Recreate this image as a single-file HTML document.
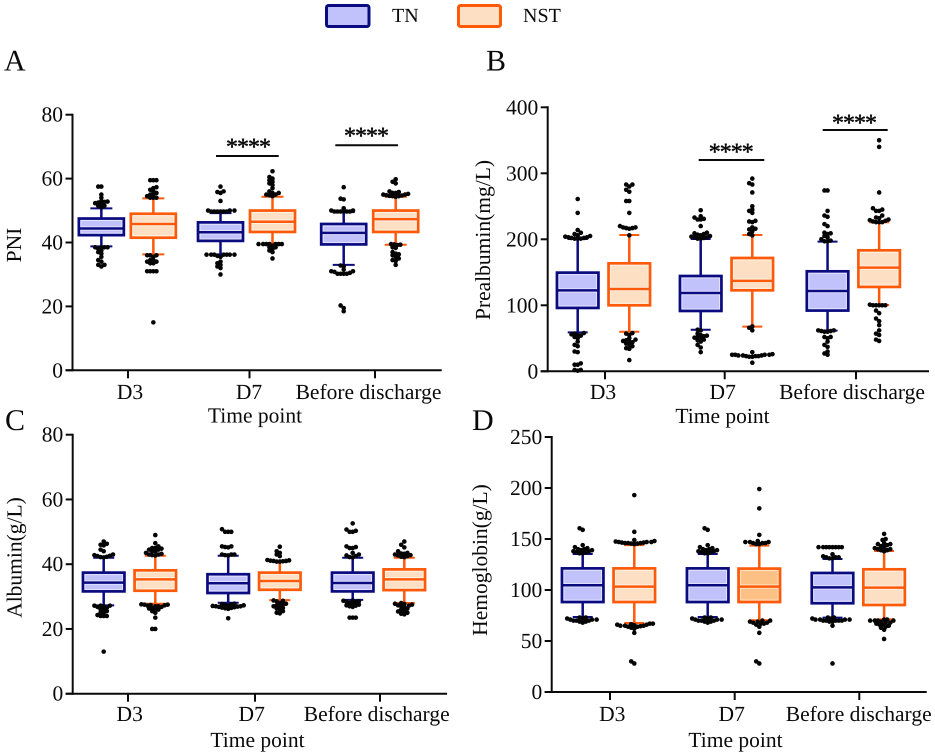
<!DOCTYPE html>
<html lang="en">
<head>
<meta charset="utf-8">
<title>Box plots of PNI, prealbumin, albumin and hemoglobin by time point</title>
<style>
html,body{margin:0;padding:0;background:#fff;}
svg{display:block;}
text{font-family:"Liberation Serif",serif;fill:#0a0a0a;text-rendering:geometricPrecision;}
.lbl{font-size:21.5px;}
.leg{font-size:20px;}
.letter{font-size:30px;}
.stars{font-size:24px;letter-spacing:-1px;text-anchor:middle;stroke:#0a0a0a;stroke-width:.45px;}
.title{font-size:21.5px;text-anchor:middle;}
</style>
</head>
<body>
<svg id="figure" xmlns="http://www.w3.org/2000/svg" width="935" height="756" viewBox="0 0 935 756">
  <rect width="935" height="756" fill="#fff"/>
  <g>
    <g>
      <rect x="326.5" y="5.5" width="42.5" height="21" rx="2" fill="#c1c1fb" stroke="#0b0b80" stroke-width="3"/>
      <text class="leg" x="392" y="22">TN</text>
    </g>
    <g>
      <rect x="458.5" y="5.5" width="42" height="21" rx="2" fill="#fde0c4" stroke="#ff5a0a" stroke-width="3"/>
      <text class="leg" x="523" y="22">NST</text>
    </g>
  </g>
  <text class="letter" x="4" y="70.5">A</text>
  <text class="letter" x="486" y="70.5">B</text>
  <text class="letter" x="5" y="430">C</text>
  <text class="letter" x="472" y="430">D</text>

  <g id="panel-a"></g>
  <g id="panel-b"></g>
  <g id="panel-c"></g>
  <g id="panel-d"></g>

  <text class="title" transform="translate(21,245) rotate(-90)">PNI</text>
  <text class="title" transform="translate(490,240) rotate(-90)">Prealbumin(mg/L)</text>
  <text class="title" transform="translate(21.5,557.5) rotate(-90)">Albumin(g/L)</text>
  <text class="title" transform="translate(487,560) rotate(-90)">Hemoglobin(g/L)</text>
  <text class="title" x="255" y="422.5">Time point</text>
  <text class="title" x="722.5" y="423">Time point</text>
  <text class="title" x="257.5" y="747">Time point</text>
  <text class="title" x="735.5" y="747">Time point</text>

  <g>
    <line x1="216" x2="278.7" y1="156" y2="156" stroke="#0a0a0a" stroke-width="2"/>
    <text class="stars" x="248" y="154.5">****</text>
  </g>
  <g>
    <line x1="335.3" x2="398" y1="145.3" y2="145.3" stroke="#0a0a0a" stroke-width="2"/>
    <text class="stars" x="366" y="143.5">****</text>
  </g>
  <g>
    <line x1="698.7" x2="764.3" y1="160" y2="160" stroke="#0a0a0a" stroke-width="2"/>
    <text class="stars" x="730.7" y="159.5">****</text>
  </g>
  <g>
    <line x1="822.7" x2="887.7" y1="130" y2="130" stroke="#0a0a0a" stroke-width="2"/>
    <text class="stars" x="854" y="130.5">****</text>
  </g>
</svg>

<script>
// ---- shared categories ----
const categories = ['D3', 'D7', 'Before discharge'];
const groups = ['TN', 'NST'];

// Every series array runs: TN D3, NST D3, TN D7, NST D7, TN discharge, NST discharge.
// ---- Panel A: PNI ----
const pniTicks = [0, 20, 40, 60, 80];
const pniLow = [38.8, 36.3, 36.3, 39.8, 33, 39.3];
const pniQ1 = [42.3, 41.5, 40.5, 43.3, 39.4, 43.3];
const pniMedian = [44.4, 45.8, 43.2, 46.5, 43, 47.3];
const pniQ3 = [47.5, 49, 46.3, 50, 45.8, 50];
const pniHigh = [50.7, 53.8, 49.2, 54.3, 49.5, 54.3];
const pniOutliers = [
  [57.5,57.5,55,54,53,52.8,52.7,52.5,52.3,52,51.5,51.5,51,38.5,38.5,38.5,38.5,38,37.5,37,36.5,35.5,34.5,34,33,33,32.5],
  [59.5,59.5,59.5,57.3,57,56.5,56,55.5,55,55,54.5,54,54,54,36,36,36,35.5,34.5,34.5,34,34,33.5,33.5,31,31,31,31,15],
  [57.5,56,55.8,55.5,53,50,50,50,49.7,49.7,49.7,49.7,49.7,49.7,36.2,36.2,36.2,36.2,36.2,36.2,36.2,35.8,35.5,34,33.5,33,32.5,32,30],
  [62.3,60.5,60,59.5,59,58.5,58,57,56,55.5,55.5,55,55,54.8,54.5,39.5,39.5,39.5,39.5,39.5,39.5,39.5,39,38.5,38.5,38,37.5,37,35],
  [57.3,53.7,53.5,50.7,50,50,49.7,49.7,49.7,49.7,49.7,49.7,32.8,32.5,31.5,31,31,30.8,30.5,30.2,30.2,30.2,30.2,20.3,19.5,18.5],
  [59.8,59,58.5,56,55.8,55.5,55.5,55.2,55,55,54.8,54.7,54.6,54.5,54.5,54.3,39.5,39.4,39.3,39.2,38.5,38.3,37,36.5,36.3,36,35.5,35,34.5,34.2,33]
];

// ---- Panel B: Prealbumin ----
const prealbuminTicks = [0, 100, 200, 300, 400];
const prealbuminLow = [59, 60, 63, 67.7, 61.6, 100.5];
const prealbuminQ1 = [96, 100, 91.4, 122.7, 92, 127.8];
const prealbuminMedian = [122.7, 124.7, 118.7, 137, 121.7, 157];
const prealbuminQ3 = [149.5, 163.6, 144.4, 171.7, 151.5, 183.3];
const prealbuminHigh = [200.5, 206.5, 200.5, 206.5, 196.5, 225.8];
const prealbuminOutliers = [
  [261,240,214,210,208,206,205,204,203,203,202,202,201,201,201,58,57,56,55,54,52,50,45,40,38,30,29,12,10,10,2,2,1],
  [283,283,280,275,272,258,258,240,220,218,218,217,217,216,206,58,57,55,50,48,47,46,45,44,42,40,38,35,34,17],
  [244,235,233,231,230,230,220,210,209,208,207,206,205,204,203,203,202,201,201,63,62,57,55,54,53,52,51,50,48,47,45,40,36,29],
  [292,285,283,271,250,245,243,240,228,227,226,218,216,215,212,208,206,68,66,62,29,26,25,25,25,25,24,24,24,23,23,23,22,22,13],
  [274,274,243,236,234,223,220,210,209,208,205,203,200,198,197,197,62,62,61,61,60,60,52,52,50,45,40,37,30,27,25],
  [350,340,271,247,245,243,243,236,233,232,230,229,228,227,226,226,226,101,100,100,100,100,100,92,88,80,76,70,62,57,55,48,46]
];

// ---- Panel C: Albumin ----
const albuminTicks = [0, 20, 40, 60, 80];
const albuminLow = [27.3, 27.8, 28.1, 28.9, 29, 28];
const albuminQ1 = [31.6, 31.8, 31.1, 32.1, 31.6, 32];
const albuminMedian = [34.3, 35.3, 34.1, 34.8, 34.2, 35.3];
const albuminQ3 = [37.4, 38.1, 36.9, 37.4, 37.4, 38.4];
const albuminHigh = [42, 42.6, 42.6, 40.8, 42, 42];
const albuminOutliers = [
  [47,46.3,46,45.8,44.5,44,43,42.8,42.6,42.5,42.3,42.2,42.1,27.2,27.2,27.2,27,26.8,26.5,26,26,25.5,25,25,24.3,24,24,24,13],
  [49,46.5,45.5,45,45,44.8,44.5,44.5,44,44,43.5,43.2,43,43,42.8,42.7,27.6,27.5,27.5,27.4,27.3,27.2,27,27,26.8,26.5,26.3,26,26,25.5,25,23.5,20,20],
  [50.8,50,50,50,45.5,45.5,45.3,45.2,43,43,43,42.8,42.7,27.8,27.7,27.5,27.4,27.3,27.2,27.1,27,27,26.9,26.8,26.7,26.6,26.5,26.4,26.2,23.3],
  [45.4,44,43.5,43,42.5,41.3,41.2,41.1,41,41,40.9,40.8,40.8,28.8,28.7,28.5,28,27.8,27.5,27.3,27,27,26.5,26.3,26,25.5,25,24.8],
  [52.6,50.7,50.3,50,50,45.5,45.3,45,45,43.5,43,42.7,42.5,42.2,42.1,28.8,28.7,28.5,28.4,28.3,28,27.8,27.5,27.3,27.2,27,26.8,23.5,23.5,23.5],
  [47,46,45.2,44,43.5,43.3,43.2,43,42.8,42.7,42.5,42.3,42.2,28,27.8,27.7,27.5,27.3,27.2,27,26.7,26.3,26,25.6,25.4,25,24.7,24.5]
];

// ---- Panel D: Hemoglobin ----
const hemoglobinTicks = [0, 50, 100, 150, 200, 250];
const hemoglobinLow = [73.5, 67.6, 73.5, 70.3, 72.9, 71.2];
const hemoglobinQ1 = [88.2, 88.2, 88.2, 88.2, 87, 85.3];
const hemoglobinMedian = [104.6, 103.3, 104.6, 103.3, 102.6, 102.3];
const hemoglobinQ3 = [121.2, 121.2, 121.2, 121, 116.7, 120.3];
const hemoglobinHigh = [135.3, 144, 135.3, 143.5, 130.4, 138.2];
const hemoglobinOutliers = [
  [160.5,159,144,142,141,140,140,139,139,138,138,137,137,136,136,73,73,72,72,71,71,71,70,70,70,69,69,68],
  [193,157,149,148,147.5,147,147,147,146.5,146.5,146,146,146,145.5,145.5,145,67,67,66.5,66,66,65.5,65,65,65,64.5,64,64,63,62,58,30,28],
  [160.5,159,144,142,141,140,140,139,139,138,138,137,137,136,136,73,73,72,72,71,71,71,70,70,70,69,69,68],
  [199,180,154,148,147,147,147,146,146,146,145,145,70,70,69,69,68,68,67,67,66,64,58,30,28],
  [142,142,142,142,142,142,142,142,135,133,132,132,132,131,131,73,73,72,72,71,71,71,71,70,70,70,70,70,69,69,65,28],
  [155,150,149,146,145,145,144,143,142,141,140,140,139,139,138,71,71,70,70,70,70,69,68,68,67,66,66,65,64,63,61,52]
];

// ---- drawing ----
const SVG_NS = 'http://www.w3.org/2000/svg';
const navy = '#0b0b80';
const orange = '#ff5a0a';
const navyFill = '#c1c1fb';
const orangeFill = '#fde0c4';
const darkOrangeFill = '#fdc084';
const DOT_R = 2.3;
const DOT_SPACING = 3.1;

function make(parent, tag, attrs) {
  const node = document.createElementNS(SVG_NS, tag);
  for (const k in attrs) node.setAttribute(k, attrs[k]);
  parent.appendChild(node);
  return node;
}

// Beeswarm: each value stays at its scaled y; x shifts only to avoid overlap.
function swarm(values, yScale) {
  const placed = [];
  const sorted = values.slice().sort(function (a, b) { return a - b; });
  sorted.forEach(function (v) {
    const py = yScale(v);
    let off = 0;
    for (let step = 0; step < 60; step++) {
      const sign = step % 2 === 0 ? 1 : -1;
      const cand = sign * Math.ceil(step / 2) * (DOT_SPACING / 2);
      const hit = placed.some(function (p) {
        const dx = p.off - cand, dy = p.py - py;
        return dx * dx + dy * dy < DOT_SPACING * DOT_SPACING;
      });
      if (!hit) { off = cand; break; }
    }
    placed.push({ off: off, py: py });
  });
  return placed;
}

function drawPanel(p) {
  const root = document.getElementById(p.id);
  const yScale = function (v) { return p.y0 - (v / p.yMax) * (p.y0 - p.yTop); };
  const xScale = function (i) {
    const cat = Math.floor(i / 2);
    return p.groupCenters[cat] + (i % 2 === 0 ? -p.halfGap : p.halfGap);
  };

  // axes
  const yAxis = make(root, 'line', { x1: p.x0, x2: p.x0, y1: p.yTop - 1, y2: p.y0 + 1, stroke: '#0a0a0a', 'stroke-width': 2 });
  
  
  const xAxis = make(root, 'line', { x1: p.x0 - 7, x2: p.x1, y1: p.y0, y2: p.y0, stroke: '#0a0a0a', 'stroke-width': 2 });
  
  

  p.ticks.forEach(function (t) {
    const y = yScale(t);
    const tick = make(root, 'line', { x1: p.x0 - 7, x2: p.x0, y1: y, y2: y, stroke: '#0a0a0a', 'stroke-width': 2 });
    
    
    const label = make(root, 'text', { x: p.x0 - 9.5, y: y + 7, class: 'lbl', 'text-anchor': 'end' });
    
    
    label.textContent = t;
  });

  categories.forEach(function (c, i) {
    const tick = make(root, 'line', { x1: p.tickX[i], x2: p.tickX[i], y1: p.y0, y2: p.y0 + 8, stroke: '#0a0a0a', 'stroke-width': 2 });
    
    
    const label = make(root, 'text', { x: p.labelX[i], y: p.labelY, class: 'lbl', 'text-anchor': 'middle' });
    
    
    label.textContent = c;
  });

  // boxes
  p.median.forEach(function (med, i) {
    const isTn = groups[i % 2] === 'TN';
    const color = isTn ? navy : orange;
    const fill = isTn ? navyFill : (i === p.darkBox ? darkOrangeFill : orangeFill);
    const cx = xScale(i);
    const w = p.boxW;
    const yLow = yScale(p.low[i]), yHigh = yScale(p.high[i]);
    const yQ1 = yScale(p.q1[i]), yQ3 = yScale(p.q3[i]), yMed = yScale(med);

    const whisker = make(root, 'line', { x1: cx, x2: cx, y1: yHigh, y2: yLow, stroke: color, 'stroke-width': 2.5 });
    
    
    const capTop = make(root, 'line', { x1: cx - p.capW / 2, x2: cx + p.capW / 2, y1: yHigh, y2: yHigh, stroke: color, 'stroke-width': 2 });
    
    
    const capBottom = make(root, 'line', { x1: cx - p.capW / 2, x2: cx + p.capW / 2, y1: yLow, y2: yLow, stroke: color, 'stroke-width': 2 });
    
    

    const box = make(root, 'rect', { x: cx - w / 2, y: yQ3, width: w, height: yQ1 - yQ3, fill: fill, stroke: color, 'stroke-width': 2.7 });
    
    
    const inner = make(root, 'rect', { x: cx - w / 2 + 2, y: yQ3 + 2, width: w - 4, height: yQ1 - yQ3 - 4, fill: 'none', stroke: '#fff', 'stroke-opacity': 0.55, 'stroke-width': 1 });
    
    
    const medHalo = make(root, 'line', { x1: cx - w / 2 + 1.8, x2: cx + w / 2 - 1.8, y1: yMed, y2: yMed, stroke: '#fff', 'stroke-opacity': 0.5, 'stroke-width': 4.5 });
    
    
    const medLine = make(root, 'line', { x1: cx - w / 2, x2: cx + w / 2, y1: yMed, y2: yMed, stroke: color, 'stroke-width': 2.5 });
    
    

    swarm(p.outliers[i], yScale).forEach(function (pt) {
      const dot = make(root, 'circle', { cx: cx + pt.off, cy: pt.py, r: DOT_R, fill: '#050505' });
      
      
    });
  });
}

drawPanel({
  id: 'panel-a', x0: 72.5, x1: 441.7, y0: 370.3, yTop: 114.7, yMax: 80,
  groupCenters: [127.35, 246.5, 369.7], halfGap: 26, boxW: 45, capW: 22,
  tickX: [128, 249.5, 375], labelX: [130, 249, 368.5], labelY: 399,
  ticks: pniTicks, low: pniLow, q1: pniQ1, median: pniMedian, q3: pniQ3, high: pniHigh, outliers: pniOutliers
});
drawPanel({
  id: 'panel-b', x0: 547.7, x1: 929, y0: 371.3, yTop: 107.3, yMax: 400,
  groupCenters: [603.5, 726.5, 853.35], halfGap: 25.8, boxW: 41.5, capW: 20,
  tickX: [605, 724.7, 856], labelX: [603, 722.7, 852], labelY: 399,
  ticks: prealbuminTicks, low: prealbuminLow, q1: prealbuminQ1, median: prealbuminMedian, q3: prealbuminQ3, high: prealbuminHigh, outliers: prealbuminOutliers
});
drawPanel({
  id: 'panel-c', x0: 72.7, x1: 447, y0: 693.7, yTop: 434.7, yMax: 80,
  groupCenters: [129.5, 254, 378.5], halfGap: 25.8, boxW: 41.5, capW: 21,
  tickX: [128, 255, 380], labelX: [129.7, 251.7, 376.7], labelY: 721,
  ticks: albuminTicks, low: albuminLow, q1: albuminQ1, median: albuminMedian, q3: albuminQ3, high: albuminHigh, outliers: albuminOutliers
});
drawPanel({
  id: 'panel-d', x0: 551.7, x1: 926.7, y0: 692, yTop: 437, yMax: 250,
  groupCenters: [608.5, 733.5, 858.3], halfGap: 25.8, boxW: 41.5, capW: 20, darkBox: 3,
  tickX: [610, 734.7, 859.3], labelX: [612.3, 731.7, 858.7], labelY: 721,
  ticks: hemoglobinTicks, low: hemoglobinLow, q1: hemoglobinQ1, median: hemoglobinMedian, q3: hemoglobinQ3, high: hemoglobinHigh, outliers: hemoglobinOutliers
});
</script>
</body>
</html>
